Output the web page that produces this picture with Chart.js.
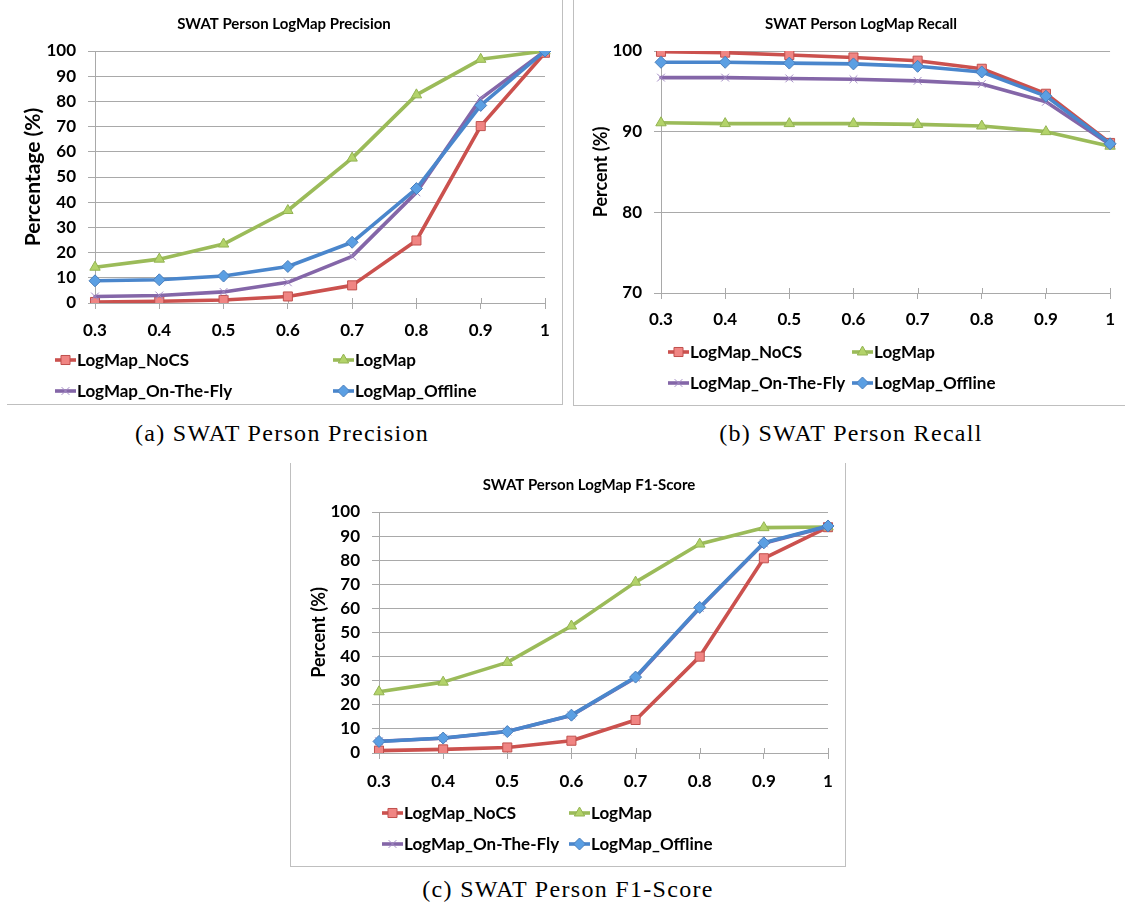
<!DOCTYPE html>
<html>
<head>
<meta charset="utf-8">
<script src="https://cdn.jsdelivr.net/npm/chart.js@4.4.1/dist/chart.umd.min.js"></script>
<style>
  html, body { margin: 0; padding: 0; background: #fff; }
  body { width: 1125px; height: 911px; position: relative; overflow: hidden; }
  .frame { position: absolute; border-color: #bfbfbf; border-style: solid; border-width: 0; box-sizing: content-box; }
  canvas { position: absolute; }
  .cap { position: absolute; font-family: "Liberation Serif", serif; font-size: 24px; letter-spacing: 1.3px; color: #000; transform: translateX(-50%); white-space: nowrap; }
</style>
</head>
<body>
<div class="frame" style="left:7px;top:-1px;width:555px;height:405px;border-right-width:1px;border-bottom-width:1px;"></div>
<div class="frame" style="left:573px;top:-1px;width:600px;height:406px;border-left-width:1px;border-bottom-width:1px;"></div>
<div class="frame" style="left:290px;top:463px;width:554px;height:403px;border-left-width:1px;border-right-width:1px;border-bottom-width:1px;"></div>

<canvas id="cPrec" width="562" height="404" style="left:0px;top:0px;width:562px;height:404px;"></canvas>
<canvas id="cRec" width="552" height="405" style="left:573px;top:0px;width:552px;height:405px;"></canvas>
<canvas id="cF1" width="555" height="403" style="left:291px;top:463px;width:555px;height:403px;"></canvas>

<div class="cap" style="left:282px;top:420px;">(a) SWAT Person Precision</div>
<div class="cap" style="left:851px;top:420px;">(b) SWAT Person Recall</div>
<div class="cap" style="left:568px;top:876px;">(c) SWAT Person F1-Score</div>

<script>
// ---------------- DATA ----------------
const thresholds = ['0.3', '0.4', '0.5', '0.6', '0.7', '0.8', '0.9', '1'];
const seriesNames = ['LogMap_NoCS', 'LogMap', 'LogMap_On-The-Fly', 'LogMap_Offline'];

const precisionTicks = [0, 10, 20, 30, 40, 50, 60, 70, 80, 90, 100];
const precNoCS     = [0.4, 0.7, 1.2, 2.6, 7.0, 24.8, 70.2, 99.3];
const precLogMap   = [14.2, 17.4, 23.4, 36.7, 57.5, 82.6, 96.7, 100];
const precOnTheFly = [2.6, 3.0, 4.4, 8.2, 18.5, 43.9, 81.1, 100];
const precOffline  = [8.8, 9.2, 10.7, 14.5, 24.1, 45.4, 78.4, 100];

const recallTicks = [70, 80, 90, 100];
const recNoCS     = [99.9, 99.8, 99.5, 99.2, 98.8, 97.8, 94.7, 88.6];
const recLogMap   = [91.1, 91.0, 91.0, 91.0, 90.9, 90.7, 90.0, 88.2];
const recOnTheFly = [96.7, 96.7, 96.6, 96.5, 96.3, 95.9, 93.7, 88.4];
const recOffline  = [98.6, 98.6, 98.5, 98.4, 98.1, 97.4, 94.4, 88.5];

const f1Ticks = [0, 10, 20, 30, 40, 50, 60, 70, 80, 90, 100];
const f1NoCS     = [1.0, 1.5, 2.3, 5.1, 13.7, 40.0, 80.8, 93.7];
const f1LogMap   = [25.4, 29.4, 37.6, 52.7, 70.9, 86.7, 93.5, 93.8];
const f1OnTheFly = [4.9, 6.1, 8.9, 15.6, 31.2, 60.2, 87.0, 94.0];
const f1Offline  = [4.8, 6.2, 8.9, 15.7, 31.5, 60.4, 87.2, 94.2];

// ---------------- STYLES ----------------
const FONT = 'Lato, "Open Sans", sans-serif';
const W = 'bold';
const GRID = '#a9a9a9';
const seriesStyles = [
  { borderColor: '#CB514E', pointStyle: 'rect',     pointRadius: 6.4, pointBackgroundColor: '#F08583', pointBorderColor: '#C0504D', order: 3 },
  { borderColor: '#9BBB59', pointStyle: 'triangle', pointRadius: 6,   pointBackgroundColor: '#B3D36A', pointBorderColor: '#93B352', order: 2 },
  { borderColor: '#8466A8', pointStyle: 'crossRot', pointRadius: 5.5, pointBackgroundColor: '#A38BC4', pointBorderColor: '#A38BC4', order: 1 },
  { borderColor: '#4A86CC', pointStyle: 'rectRot',  pointRadius: 6,   pointBackgroundColor: '#5B9FE3', pointBorderColor: '#4A7EBB', order: 0 }
];

function makeDatasets(valueLists) {
  return valueLists.map((vals, i) => Object.assign({
    label: seriesNames[i],
    data: vals,
    borderWidth: 3.6,
    pointBorderWidth: 1,
    pointHoverRadius: 6,
    tension: 0,
    fill: false,
    borderJoinStyle: 'round',
    borderCapStyle: 'round'
  }, seriesStyles[i]));
}

// Excel-style cross ticks: the part of each x tick mark that rises above the axis
const crossTicks = {
  id: 'crossTicks',
  beforeDatasetsDraw(chart) {
    const ctx = chart.ctx, xs = chart.scales.x, yb = chart.chartArea.bottom;
    ctx.save();
    ctx.strokeStyle = GRID;
    ctx.lineWidth = 1;
    xs.ticks.forEach((t, i) => {
      const px = Math.round(xs.getPixelForTick(i)) + 0.5;
      ctx.beginPath();
      ctx.moveTo(px, yb - 5);
      ctx.lineTo(px, yb);
      ctx.stroke();
    });
    ctx.restore();
  }
};

const figDecor = {
  id: 'figDecor',
  afterDraw(chart, args, o) {
    const ctx = chart.ctx;
    ctx.save();
    ctx.fillStyle = '#000';
    ctx.textAlign = 'center';
    ctx.textBaseline = 'middle';
    ctx.font = W + ' ' + o.titleSize + 'px ' + FONT;
    ctx.fillText(o.title, o.titleX, o.titleY);
    chart.data.datasets.forEach((ds, i) => {
      const x = o.cols[i % 2];
      const y = o.rows[Math.floor(i / 2)];
      const w = o.symbolWidth;
      ctx.strokeStyle = ds.borderColor;
      ctx.lineWidth = ds.borderWidth;
      ctx.lineCap = 'butt';
      ctx.beginPath();
      ctx.moveTo(x, y);
      ctx.lineTo(x + w, y);
      ctx.stroke();
      ctx.fillStyle = ds.pointBackgroundColor;
      ctx.strokeStyle = ds.pointBorderColor;
      ctx.lineWidth = ds.pointBorderWidth;
      Chart.helpers.drawPoint(ctx, { pointStyle: ds.pointStyle, radius: ds.pointRadius, rotation: 0, borderWidth: ds.pointBorderWidth }, x + w / 2, y);
      ctx.fillStyle = '#000';
      ctx.textAlign = 'left';
      ctx.textBaseline = 'middle';
      ctx.font = W + ' ' + o.legendSize + 'px ' + FONT;
      ctx.fillText(ds.label, x + w + 1, y + 1);
    });
    ctx.restore();
  }
};

function makeChart(id, valueLists, ticks, cfg) {
  const ctx = document.getElementById(id).getContext('2d');
  return new Chart(ctx, {
    type: 'line',
    data: { labels: thresholds, datasets: makeDatasets(valueLists) },
    plugins: [crossTicks, figDecor],
    options: {
      responsive: false,
      animation: false,
      devicePixelRatio: 1,
      layout: { padding: { left: 0, top: cfg.top, right: cfg.right, bottom: cfg.bottom } },
      plugins: {
        legend: { display: false },
        title: { display: false },
        tooltip: { enabled: false },
        figDecor: cfg.decor
      },
      scales: {
        x: {
          type: 'category',
          offset: false,
          afterFit: (s) => { s.height = 40; },
          grid: { display: true, drawOnChartArea: false, drawTicks: true, tickLength: 6, color: GRID, lineWidth: 1 },
          border: { display: true, color: GRID, width: 1 },
          ticks: { color: '#000', padding: cfg.xPad, font: { family: FONT, size: 17, weight: W }, maxRotation: 0, autoSkip: false }
        },
        y: {
          min: ticks[0],
          max: ticks[ticks.length - 1],
          afterFit: (s) => { s.width = cfg.yWidth; },
          afterBuildTicks: (s) => { s.ticks = ticks.map(v => ({ value: v })); },
          grid: { color: GRID, lineWidth: 1, drawTicks: true, tickLength: 7 },
          border: { display: true, color: GRID, width: 1 },
          ticks: { color: '#000', padding: 12, font: { family: FONT, size: 17, weight: W } },
          title: { display: true, text: cfg.yTitle, color: '#000', padding: { top: cfg.yTitlePad, bottom: 0 }, font: { family: FONT, size: cfg.yTitleSize, weight: W } }
        }
      }
    }
  });
}

makeChart('cPrec', [precNoCS, precLogMap, precOnTheFly, precOffline], precisionTicks, {
  top: 51, right: 17, bottom: 61, yWidth: 95, xPad: 11, yTitle: 'Percentage (%)', yTitlePad: 21, yTitleSize: 21,
  decor: { title: 'SWAT Person LogMap Precision', titleX: 284, titleY: 24, titleSize: 15,
           cols: [55, 333], rows: [360, 391], symbolWidth: 21, legendSize: 17 }
});

makeChart('cRec', [recNoCS, recLogMap, recOnTheFly, recOffline], recallTicks, {
  top: 51, right: 14, bottom: 72, yWidth: 88, xPad: 10, yTitle: 'Percent (%)', yTitlePad: 17, yTitleSize: 18,
  decor: { title: 'SWAT Person LogMap Recall', titleX: 288, titleY: 24, titleSize: 15,
           cols: [95, 279], rows: [352, 383], symbolWidth: 21, legendSize: 17 }
});

makeChart('cF1', [f1NoCS, f1LogMap, f1OnTheFly, f1Offline], f1Ticks, {
  top: 49, right: 18, bottom: 73, yWidth: 88, xPad: 12, yTitle: 'Percent (%)', yTitlePad: 17, yTitleSize: 18,
  decor: { title: 'SWAT Person LogMap F1-Score', titleX: 298, titleY: 22, titleSize: 15,
           cols: [91, 278], rows: [350, 381], symbolWidth: 21, legendSize: 17 }
});
</script>
</body>
</html>
